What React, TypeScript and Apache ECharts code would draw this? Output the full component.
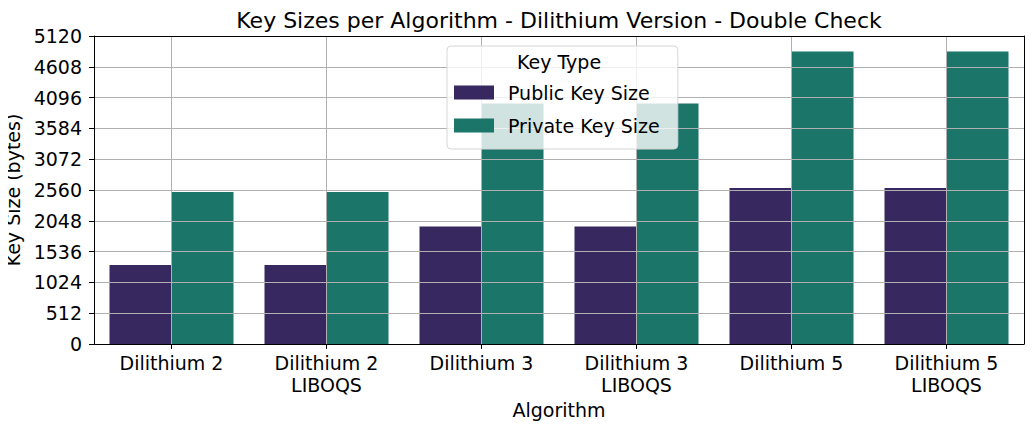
import React, { useEffect, useRef } from "react";
import * as echarts from "echarts";

const categories = [
  "Dilithium 2",
  "Dilithium 2\nLIBOQS",
  "Dilithium 3",
  "Dilithium 3\nLIBOQS",
  "Dilithium 5",
  "Dilithium 5\nLIBOQS",
];
const publicKeySizes = [1312, 1312, 1952, 1952, 2592, 2592];
const privateKeySizes = [2528, 2528, 4000, 4000, 4864, 4864];
const seriesNames = ["Public Key Size", "Private Key Size"];
const yMax = 5120;
const yStep = 512;

const FONT = "DejaVu Sans";
const GRID = { left: 94, right: 9, top: 36, bottom: 85 };

export default function App() {
  const ref = useRef<HTMLDivElement>(null);
  useEffect(() => {
    if (!ref.current) return;
    const chart = echarts.init(ref.current, null, { renderer: "svg" });
    const plotCenterX = GRID.left + (1033 - GRID.left - GRID.right) / 2;
    const centerValues = categories.map((_, i) => i);
    chart.setOption({
      animation: false,
      textStyle: { fontFamily: FONT },
      graphic: [
        {
          type: "text",
          x: plotCenterX,
          y: 20,
          z: 10,
          style: {
            text: "Key Sizes per Algorithm - Dilithium Version - Double Check",
            fontFamily: FONT,
            fontSize: 22,
            fill: "#000",
            align: "center",
            verticalAlign: "middle",
          },
        },
        {
          type: "text",
          x: 559,
          y: 62,
          z: 10,
          style: {
            text: "Key Type",
            fontFamily: FONT,
            fontSize: 19,
            fill: "#000",
            align: "center",
            verticalAlign: "middle",
          },
        },
      ],
      legend: {
        orient: "vertical",
        left: 447,
        top: 46,
        z: 5,
        itemWidth: 40,
        itemHeight: 14,
        itemGap: 14,
        padding: [37, 18, 14, 7],
        backgroundColor: "rgba(255,255,255,0.8)",
        borderColor: "#d6d6d6",
        borderWidth: 1,
        borderRadius: 4,
        icon: "rect",
        textStyle: { fontFamily: FONT, fontSize: 19, color: "#000", padding: [0, 0, 0, 9] },
        data: seriesNames,
      },
      grid: { ...GRID, containLabel: false, outerBoundsMode: "none" },
      xAxis: [
        {
          type: "category",
          data: categories,
          position: "bottom",
          z: 3,
          name: "Algorithm",
          nameLocation: "middle",
          nameGap: 53,
          nameTextStyle: { fontFamily: FONT, fontSize: 19, color: "#000" },
          axisLine: { show: true, onZero: false, lineStyle: { color: "#000", width: 1 } },
          axisTick: { show: true, alignWithLabel: true, length: 5, lineStyle: { color: "#000" } },
          axisLabel: {
            fontFamily: FONT,
            fontSize: 19,
            color: "#000",
            margin: 8,
            lineHeight: 22,
            interval: 0,
          },
          splitLine: { show: false },
        },
        {
          type: "value",
          position: "top",
          min: -0.5,
          max: categories.length - 0.5,
          z: 3,
          axisLine: { show: true, onZero: false, lineStyle: { color: "#000", width: 1 } },
          axisTick: { show: false, customValues: centerValues },
          axisLabel: { show: false, customValues: centerValues },
          splitLine: { show: true, lineStyle: { color: "#b0b0b0", width: 1 } },
        },
      ],
      yAxis: [
        {
          type: "value",
          min: 0,
          max: yMax,
          interval: yStep,
          z: 3,
          name: "Key Size (bytes)",
          nameLocation: "middle",
          nameGap: 66,
          nameTextStyle: { fontFamily: FONT, fontSize: 19, color: "#000" },
          axisLine: { show: true, onZero: false, lineStyle: { color: "#000", width: 1 } },
          axisTick: { show: true, length: 5, lineStyle: { color: "#000" } },
          axisLabel: {
            fontFamily: FONT,
            fontSize: 19,
            color: "#000",
            margin: 12,
            formatter: (v: number) => String(v),
          },
          splitLine: { show: true, lineStyle: { color: "#b0b0b0", width: 1 } },
        },
        {
          type: "value",
          position: "right",
          min: 0,
          max: yMax,
          interval: yStep,
          z: 3,
          axisLine: { show: true, onZero: false, lineStyle: { color: "#000", width: 1 } },
          axisTick: { show: false },
          axisLabel: { show: false },
          splitLine: { show: false },
        },
      ],
      series: [
        {
          name: seriesNames[0],
          type: "bar",
          xAxisIndex: 0,
          yAxisIndex: 0,
          data: publicKeySizes,
          barWidth: "40%",
          barGap: "0%",
          barCategoryGap: "20%",
          itemStyle: { color: "#372860" },
          z: 2,
        },
        {
          name: seriesNames[1],
          type: "bar",
          xAxisIndex: 0,
          yAxisIndex: 0,
          data: privateKeySizes,
          barWidth: "40%",
          barGap: "0%",
          barCategoryGap: "20%",
          itemStyle: { color: "#1b7568" },
          z: 2,
        },
      ],
    });
    return () => chart.dispose();
  }, []);
  return <div ref={ref} style={{ width: 1033, height: 429, margin: -8 }} />;
}
